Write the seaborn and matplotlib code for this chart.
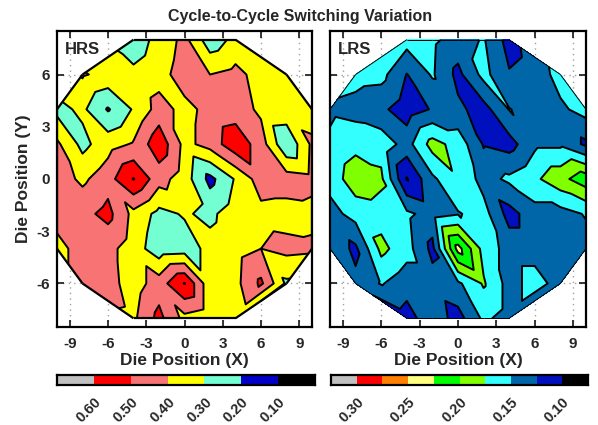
import numpy as np
import matplotlib
matplotlib.use("Agg")
import matplotlib.pyplot as plt
import matplotlib.tri as mtri
from matplotlib.colors import ListedColormap
from matplotlib.collections import LineCollection
import seaborn as sns

# ---------------- data ----------------
row_y = [8, 6, 4, 2, 0, -2, -4, -6, -8]
row_xmin = [-4, -8, -10, -10, -10, -10, -10, -8, -4]
row_xmax = [4, 8, 10, 10, 10, 10, 10, 8, 4]
x_step = 2

hrs_values = [
    [0.25, 0.33, 0.43, 0.24, 0.33],
    [0.41, 0.37, 0.32, 0.36, 0.45, 0.40, 0.43, 0.36, 0.33],
    [0.27, 0.32, 0.19, 0.31, 0.44, 0.37, 0.43, 0.45, 0.38, 0.37, 0.35],
    [0.42, 0.27, 0.36, 0.41, 0.57, 0.37, 0.44, 0.57, 0.45, 0.21, 0.42],
    [0.45, 0.38, 0.46, 0.605, 0.44, 0.35, 0.17, 0.31, 0.45, 0.45, 0.43],
    [0.45, 0.47, 0.53, 0.37, 0.27, 0.31, 0.28, 0.35, 0.37, 0.36, 0.37],
    [0.36, 0.45, 0.43, 0.35, 0.24, 0.25, 0.33, 0.36, 0.40, 0.43, 0.42],
    [0.45, 0.44, 0.35, 0.45, 0.605, 0.33, 0.37, 0.52, 0.28],
    [0.38, 0.53, 0.37, 0.33, 0.32],
]

lrs_values = [
    [0.16, 0.155, 0.14, 0.152, 0.115],
    [0.16, 0.158, 0.124, 0.153, 0.118, 0.158, 0.127, 0.135, 0.16],
    [0.145, 0.14, 0.13, 0.112, 0.127, 0.13, 0.115, 0.151, 0.14, 0.145, 0.16],
    [0.155, 0.168, 0.165, 0.14, 0.185, 0.165, 0.123, 0.115, 0.145, 0.145, 0.12],
    [0.16, 0.19, 0.18, 0.098, 0.145, 0.172, 0.14, 0.155, 0.17, 0.192, 0.215],
    [0.14, 0.16, 0.165, 0.155, 0.14, 0.148, 0.16, 0.115, 0.14, 0.14, 0.152],
    [0.14, 0.12, 0.182, 0.16, 0.118, 0.235, 0.165, 0.14, 0.14, 0.14, 0.14],
    [0.13, 0.152, 0.135, 0.135, 0.145, 0.178, 0.14, 0.16, 0.14],
    [0.115, 0.14, 0.115, 0.155, 0.14],
]

hrs_levels = [0.1, 0.2, 0.3, 0.4, 0.5, 0.6]
hrs_colors = ["#0000C8", "#73FFD2", "#FFFF00", "#F87474", "#FF0000"]
hrs_under, hrs_over = "#000000", "#C0C0C0"
hrs_ticklabels = ["0.60", "0.50", "0.40", "0.30", "0.20", "0.10"]

lrs_levels = [0.1, 0.125, 0.15, 0.175, 0.2, 0.225, 0.25, 0.275, 0.3]
lrs_colors = ["#0010BE", "#0066A8", "#33FFFF", "#80FF00", "#00FF00",
              "#FFFF80", "#FF8000", "#FF0000"]
lrs_under, lrs_over = "#000000", "#C0C0C0"
lrs_ticklabels = ["0.30", "", "0.25", "", "0.20", "", "0.15", "", "0.10"]

# ---------------- style ----------------
sns.set_style("ticks")
plt.rcParams["font.family"] = ["Liberation Sans", "DejaVu Sans"]
plt.rcParams["font.weight"] = "bold"
plt.rcParams["axes.labelweight"] = "bold"
plt.rcParams["axes.titleweight"] = "bold"
plt.rcParams["axes.unicode_minus"] = False


def build_mesh(values):
    xs, ys, vs = [], [], []
    index = {}
    for y, x0, x1, row in zip(row_y, row_xmin, row_xmax, values):
        for k, x in enumerate(range(x0, x1 + 1, x_step)):
            index[(x, y)] = len(xs)
            xs.append(x); ys.append(y); vs.append(row[k])
    tris = []
    for y in range(min(row_y), max(row_y), 2):
        for x in range(min(row_xmin), max(row_xmax), x_step):
            tl, bl = (x, y + 2), (x, y)
            br, tr = (x + x_step, y), (x + x_step, y + 2)
            have = [p in index for p in (tl, bl, br, tr)]
            if all(have):
                tris.append([index[tl], index[bl], index[br]])
                tris.append([index[tl], index[br], index[tr]])
            elif sum(have) == 3:
                tris.append([index[p] for p in (tl, bl, br, tr) if p in index])
    # fill the concave notches so the wafer outline is convex
    for a, b, c in [((-8, 6), (-6, 6), (-4, 8)), ((4, 8), (6, 6), (8, 6)),
                    ((-8, -6), (-6, -6), (-4, -8)), ((4, -8), (6, -6), (8, -6))]:
        tris.append([index[a], index[b], index[c]])
    tri = mtri.Triangulation(np.array(xs, float), np.array(ys, float), np.array(tris))
    return tri, np.array(vs)


def draw_panel(ax, values, levels, colors, under, over, label, outline_lw):
    tri, z = build_mesh(values)
    cmap = ListedColormap(colors)
    cmap.set_under(under)
    cmap.set_over(over)
    ax.set_axisbelow(True)
    ax.grid(True, linestyle=(0, (1, 3)), color="#A0A0A0", linewidth=1.0)
    ax.tricontourf(tri, z, levels=levels, cmap=cmap, extend="both",
                   vmin=levels[0], vmax=levels[-1], zorder=2)
    ax.tricontour(tri, z, levels=levels, colors="black", linewidths=1.4, zorder=3)
    nb = tri.neighbors
    segs = []
    for t in range(len(tri.triangles)):
        for i in range(3):
            if nb[t, i] == -1:
                a = tri.triangles[t, i]
                b = tri.triangles[t, (i + 1) % 3]
                segs.append([(tri.x[a], tri.y[a]), (tri.x[b], tri.y[b])])
    ax.add_collection(LineCollection(segs, colors="black", linewidths=outline_lw, zorder=4))
    ax.set_xlim(-10, 10)
    ax.set_ylim(-8.5, 8.5)
    ax.set_xticks([-9, -6, -3, 0, 3, 6, 9])
    ax.set_yticks([-6, -3, 0, 3, 6])
    ax.tick_params(direction="in", top=True, right=True, length=5, width=1.3,
                   labelsize=11, pad=7)
    ax.tick_params(axis="y", pad=5)
    for s in ax.spines.values():
        s.set_linewidth(1.6)
        s.set_color("black")
        s.set_zorder(5)
    ax.set_xlabel("Die Position (X)", fontsize=12.5, labelpad=2)
    ax.text(0.03, 0.962, label, transform=ax.transAxes, fontsize=12,
            fontweight="bold", va="top", ha="left", zorder=6)


def draw_colorbar(cax, colors, under, over, ticklabels):
    seg_colors = [over] + list(colors[::-1]) + [under]
    n = len(seg_colors)
    sns.heatmap(np.arange(n)[None, :], cmap=ListedColormap(seg_colors), cbar=False,
                ax=cax, xticklabels=False, yticklabels=False, linewidths=0)
    cax.set_xticks(np.arange(1, n))
    cax.set_xticklabels(ticklabels, rotation=45, ha="right", va="top",
                        rotation_mode="anchor", fontsize=10.5, fontweight="bold")
    cax.tick_params(axis="x", length=0, pad=7, bottom=True)
    cax.tick_params(axis="y", length=0, left=False)
    for s in cax.spines.values():
        s.set_visible(True)
        s.set_linewidth(1.6)
        s.set_color("black")


fig = plt.figure(figsize=(5.98, 4.25), dpi=100)
ax1 = fig.add_axes([57 / 598, 1 - 327 / 425, 255 / 598, 296 / 425])
ax2 = fig.add_axes([330 / 598, 1 - 327 / 425, 256 / 598, 296 / 425])
cax1 = fig.add_axes([57 / 598, 1 - 385 / 425, 258 / 598, 10 / 425])
cax2 = fig.add_axes([331 / 598, 1 - 385 / 425, 257 / 598, 10 / 425])

draw_panel(ax1, hrs_values, hrs_levels, hrs_colors, hrs_under, hrs_over, "HRS", 1.6)
draw_panel(ax2, lrs_values, lrs_levels, lrs_colors, lrs_under, lrs_over, "LRS", 0.7)
ax1.set_ylabel("Die Position (Y)", fontsize=12.5, labelpad=4)
ax2.set_yticklabels([])

draw_colorbar(cax1, hrs_colors, hrs_under, hrs_over, hrs_ticklabels)
draw_colorbar(cax2, lrs_colors, lrs_under, lrs_over, lrs_ticklabels)

fig.text(0.502, 0.962, "Cycle-to-Cycle Switching Variation", ha="center", va="center",
         fontsize=11.5, fontweight="bold")

fig.savefig("out.png", dpi=100)
